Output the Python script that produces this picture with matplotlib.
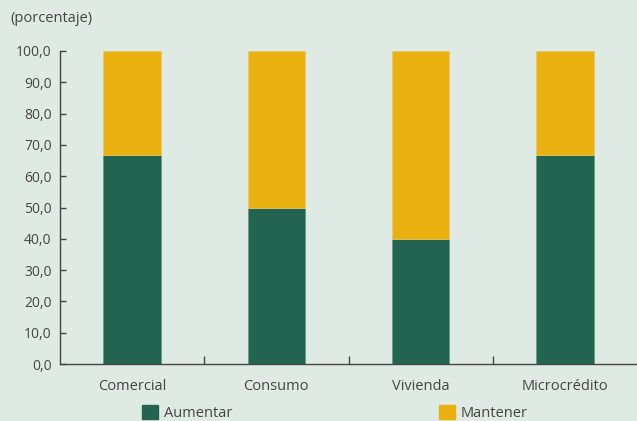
import matplotlib
matplotlib.use("Agg")
import matplotlib.pyplot as plt
from matplotlib.patches import Patch
import numpy as np

categories = ["Comercial", "Consumo", "Vivienda", "Microcrédito"]
aumentar = [66.7, 50.0, 40.0, 66.7]
mantener = [33.3, 50.0, 60.0, 33.3]
series_names = ["Aumentar", "Mantener"]
yticks = [0, 10, 20, 30, 40, 50, 60, 70, 80, 90, 100]

bg = "#E0EAE5"
green = "#236450"
yellow = "#EAB010"
txt = "#444444"

plt.rcParams['font.family'] = ['Open Sans', 'DejaVu Sans']

fig = plt.figure(figsize=(6.37, 4.21), dpi=100, facecolor=bg)
ax = fig.add_axes([60/637, (421-364)/421, 1 - 60/637, (364-51)/421])
ax.set_facecolor(bg)

x = np.arange(len(categories))
ax.bar(x, aumentar, width=0.40, color=green, edgecolor="#5f9a88", linewidth=0.5, label=series_names[0])
ax.bar(x, mantener, width=0.40, bottom=aumentar, color=yellow, edgecolor="#f0c860", linewidth=0.5, label=series_names[1])

ax.set_xlim(-0.5, 3.5)
ax.set_ylim(0, 100)
ax.set_yticks(yticks)
ax.set_yticklabels([f"{v:.1f}".replace(".", ",") for v in yticks], color=txt, fontsize=10)
ax.tick_params(axis='y', direction='in', length=4, width=1, color="#444444", pad=6)

ax.set_xticks(x)
ax.set_xticklabels(categories, color=txt, fontsize=10.5)
ax.tick_params(axis='x', which='major', length=0, pad=11)
ax.set_xticks([0.5, 1.5, 2.5], minor=True)
ax.tick_params(axis='x', which='minor', direction='in', length=6, width=1, color="#444444")

for s in ["top", "right"]:
    ax.spines[s].set_visible(False)
for s in ["left", "bottom"]:
    ax.spines[s].set_color("#444444")
    ax.spines[s].set_linewidth(1)

fig.text(10/637, 1 - 18/421, "(porcentaje)", color=txt, fontsize=10.5, va="center", ha="left")

fig.legend(handles=[Patch(color=green), Patch(color=yellow)], labels=series_names,
           loc="upper left", bbox_to_anchor=(136/637, 1 - 399/421), ncol=2,
           frameon=False, fontsize=10.5, labelcolor=txt, handlelength=1.1, handleheight=1.1,
           handletextpad=0.4, columnspacing=14.2, borderaxespad=0)

fig.savefig("out.png", dpi=100, facecolor=bg)
